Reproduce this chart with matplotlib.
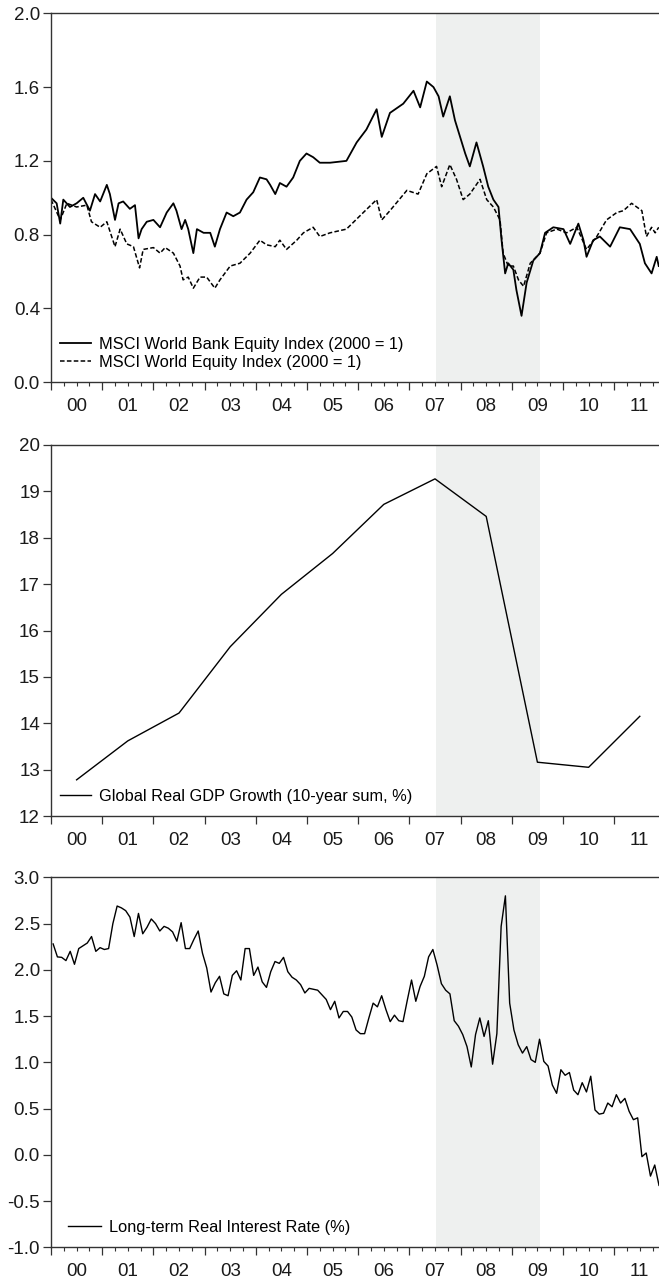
import numpy as np
import matplotlib
matplotlib.use("Agg")
import matplotlib.pyplot as plt
from matplotlib.ticker import FormatStrFormatter

plt.rcParams['font.family'] = ['Liberation Sans', 'DejaVu Sans']
plt.rcParams['axes.unicode_minus'] = False

# MSCI World Bank Equity Index (2000 = 1)
bank_t = [2000.00, 2000.11, 2000.18, 2000.24, 2000.37, 2000.50, 2000.63, 2000.76, 2000.86, 2000.96,
          2001.09, 2001.15, 2001.25, 2001.32, 2001.41, 2001.54, 2001.64, 2001.71, 2001.77, 2001.87,
          2002.00, 2002.13, 2002.26, 2002.39, 2002.45, 2002.55, 2002.62, 2002.68, 2002.78, 2002.85,
          2002.98, 2003.11, 2003.20, 2003.30, 2003.43, 2003.56, 2003.69, 2003.82, 2003.95, 2004.08,
          2004.21, 2004.28, 2004.38, 2004.47, 2004.60, 2004.73, 2004.86, 2004.99, 2005.12, 2005.25,
          2005.45, 2005.77, 2005.97, 2006.16, 2006.36, 2006.46, 2006.62, 2006.88, 2007.08, 2007.21,
          2007.34, 2007.47, 2007.57, 2007.66, 2007.79, 2007.89, 2007.99, 2008.09, 2008.18, 2008.31,
          2008.44, 2008.54, 2008.64, 2008.74, 2008.80, 2008.87, 2008.93, 2009.03, 2009.09, 2009.19,
          2009.29, 2009.42, 2009.55, 2009.65, 2009.81, 2010.01, 2010.14, 2010.30, 2010.40, 2010.46,
          2010.59, 2010.72, 2010.92, 2011.11, 2011.31, 2011.50, 2011.60, 2011.73, 2011.83, 2011.87]
bank_v = [1.00, 0.97, 0.86, 0.99, 0.95, 0.97, 1.00, 0.93, 1.02, 0.98,
          1.07, 1.02, 0.88, 0.97, 0.98, 0.94, 0.96, 0.78, 0.83, 0.87,
          0.88, 0.84, 0.92, 0.97, 0.93, 0.83, 0.88, 0.83, 0.70, 0.83,
          0.81, 0.81, 0.735, 0.83, 0.92, 0.90, 0.92, 0.99, 1.03, 1.11,
          1.10, 1.07, 1.02, 1.08, 1.06, 1.11, 1.20, 1.24, 1.22, 1.19,
          1.19, 1.20, 1.30, 1.37, 1.48, 1.33, 1.46, 1.51, 1.58, 1.49,
          1.63, 1.60, 1.55, 1.44, 1.55, 1.42, 1.33, 1.24, 1.17, 1.30,
          1.17, 1.06, 0.99, 0.95, 0.77, 0.59, 0.645, 0.61, 0.50, 0.36,
          0.54, 0.66, 0.70, 0.81, 0.84, 0.83, 0.75, 0.86, 0.77, 0.68,
          0.77, 0.79, 0.735, 0.84, 0.83, 0.75, 0.645, 0.59, 0.68, 0.63]

# MSCI World Equity Index (2000 = 1)
world_t = [2000.00, 2000.18, 2000.31, 2000.50, 2000.70, 2000.79, 2000.96, 2001.09, 2001.25, 2001.35,
           2001.48, 2001.61, 2001.73, 2001.80, 2002.00, 2002.13, 2002.23, 2002.39, 2002.52, 2002.58,
           2002.68, 2002.78, 2002.91, 2003.04, 2003.20, 2003.30, 2003.50, 2003.69, 2003.89, 2004.08,
           2004.21, 2004.38, 2004.47, 2004.60, 2004.80, 2004.93, 2005.12, 2005.25, 2005.45, 2005.77,
           2006.10, 2006.36, 2006.46, 2006.62, 2006.95, 2007.17, 2007.34, 2007.53, 2007.63, 2007.79,
           2007.92, 2008.05, 2008.18, 2008.38, 2008.51, 2008.64, 2008.77, 2008.83, 2008.93, 2009.03,
           2009.13, 2009.23, 2009.36, 2009.55, 2009.68, 2009.88, 2010.07, 2010.27, 2010.46, 2010.66,
           2010.85, 2011.05, 2011.18, 2011.34, 2011.54, 2011.63, 2011.73, 2011.80, 2011.87]
world_v = [0.99, 0.88, 0.97, 0.95, 0.96, 0.87, 0.84, 0.87, 0.735, 0.83,
           0.75, 0.735, 0.62, 0.72, 0.73, 0.70, 0.73, 0.70, 0.63, 0.555,
           0.57, 0.51, 0.57, 0.57, 0.51, 0.555, 0.63, 0.645, 0.70, 0.77,
           0.745, 0.735, 0.77, 0.72, 0.77, 0.81, 0.84, 0.79, 0.81, 0.83,
           0.92, 0.99, 0.88, 0.93, 1.04, 1.02, 1.13, 1.17, 1.06, 1.18,
           1.10, 0.99, 1.02, 1.10, 0.99, 0.95, 0.88, 0.70, 0.63, 0.63,
           0.555, 0.52, 0.645, 0.70, 0.81, 0.83, 0.81, 0.84, 0.72, 0.79,
           0.88, 0.92, 0.93, 0.97, 0.93, 0.79, 0.84, 0.81, 0.84]

# Global real GDP growth, 10-year sum (%), annual
gdp_years = np.arange(2000, 2012)
gdp_sum = [12.78, 13.62, 14.22, 15.65, 16.78, 17.66, 18.72, 19.27, 18.46, 13.16, 13.05, 14.15]

# Long-term real interest rate (%), monthly Jan 2000 - Nov 2011
real_rate = [2.28, 2.14, 2.135, 2.10, 2.20, 2.06, 2.23, 2.26, 2.29, 2.36, 2.20, 2.24,
             2.22, 2.23, 2.50, 2.69, 2.67, 2.64, 2.57, 2.36, 2.61, 2.39, 2.46, 2.55,
             2.50, 2.42, 2.47, 2.45, 2.41, 2.31, 2.51, 2.23, 2.23, 2.33, 2.42, 2.18,
             2.02, 1.76, 1.86, 1.93, 1.74, 1.72, 1.94, 1.99, 1.89, 2.23, 2.23, 1.94,
             2.03, 1.87, 1.81, 1.98, 2.09, 2.07, 2.135, 1.98, 1.92, 1.89, 1.84, 1.75,
             1.80, 1.79, 1.78, 1.73, 1.68, 1.57, 1.66, 1.48, 1.55, 1.55, 1.49, 1.35,
             1.31, 1.31, 1.48, 1.64, 1.60, 1.72, 1.57, 1.44, 1.51, 1.45, 1.44, 1.67,
             1.89, 1.66, 1.82, 1.93, 2.14, 2.22, 2.05, 1.85, 1.78, 1.74, 1.45, 1.39,
             1.30, 1.17, 0.95, 1.30, 1.48, 1.28, 1.45, 0.98, 1.31, 2.47, 2.80, 1.64,
             1.35, 1.19, 1.10, 1.17, 1.03, 1.00, 1.25, 1.01, 0.96, 0.755, 0.665, 0.92,
             0.86, 0.89, 0.70, 0.65, 0.78, 0.68, 0.85, 0.485, 0.44, 0.45, 0.56, 0.52,
             0.65, 0.56, 0.61, 0.47, 0.38, 0.40, -0.02, 0.02, -0.23, -0.11, -0.33]
rate_t = 2000 + (np.arange(len(real_rate)) + 0.5) / 12

year_labels = ['00', '01', '02', '03', '04', '05', '06', '07', '08', '09', '10', '11']
crisis = (2007.52, 2009.55)

ink = '#1a1a1a'
spine_col = '#333333'
shade = '#eef0ef'
x_end = 2011.875


def setup_axis(ax, quarters=True):
    ax.set_xlim(2000, x_end)
    ax.axvspan(*crisis, color=shade, lw=0, zorder=0)
    for side in ['left', 'bottom', 'top']:
        ax.spines[side].set_color(spine_col)
        ax.spines[side].set_linewidth(1.0)
    ax.spines['right'].set_visible(False)
    # year boundaries get the long ticks, labels sit in the middle of each year
    ax.set_xticks(np.arange(2000, 2012), labels=[''] * 12)
    if quarters:
        qpos = [y + q for y in range(2000, 2012) for q in (0.25, 0.5, 0.75)]
        qlab = [year_labels[y - 2000] if q == 0.5 else '' for y in range(2000, 2012) for q in (0.25, 0.5, 0.75)]
        qpos, qlab = zip(*[(p, l) for p, l in zip(qpos, qlab) if p < x_end])
        ax.set_xticks(qpos, labels=qlab, minor=True)
        ax.tick_params(axis='x', which='minor', length=3, width=0.8, pad=8.5)
    else:
        ax.set_xticks([y + 0.5 for y in range(2000, 2012)], labels=year_labels, minor=True)
        ax.tick_params(axis='x', which='minor', length=0, pad=11.5)
    ax.tick_params(axis='x', which='major', length=5.5, width=0.9, direction='out')
    ax.tick_params(axis='both', which='both', colors=spine_col, labelcolor=ink, labelsize=13.5)
    ax.tick_params(axis='y', which='major', length=5.5, width=0.9, pad=2.5)


fig = plt.figure(figsize=(6.59, 12.78), dpi=100)
left = 0.0774
width = 1 - left
leg_kw = dict(loc='lower left', frameon=False, fontsize=11.8, handletextpad=0.5,
              borderpad=0, borderaxespad=0)

# equity indices
ax1 = fig.add_axes([left, 0.7009, width, 0.2887])
setup_axis(ax1)
ax1.plot(bank_t, bank_v, color='black', lw=1.3, label='MSCI World Bank Equity Index (2000 = 1)')
ax1.plot(world_t, world_v, color='black', lw=1.1, ls=(0, (3, 1.5)), label='MSCI World Equity Index (2000 = 1)')
ax1.set_ylim(0, 2.0)
ax1.set_yticks(np.arange(0, 2.01, 0.4))
ax1.yaxis.set_major_formatter(FormatStrFormatter('%.1f'))
ax1.legend(bbox_to_anchor=(0.015, 0.033), handlelength=1.9, labelspacing=0.2, **leg_kw)

# GDP growth
ax2 = fig.add_axes([left, 0.3615, width, 0.2903])
setup_axis(ax2, quarters=False)
ax2.plot(gdp_years + 0.5, gdp_sum, color='black', lw=1.0, label='Global Real GDP Growth (10-year sum, %)')
ax2.set_ylim(12, 20)
ax2.set_yticks(np.arange(12, 21, 1))
ax2.legend(bbox_to_anchor=(0.015, 0.033), handlelength=1.9, **leg_kw)

# real interest rate
ax3 = fig.add_axes([left, 0.0240, width, 0.2895])
setup_axis(ax3)
ax3.plot(rate_t, real_rate, color='black', lw=1.0, label='Long-term Real Interest Rate (%)')
ax3.set_ylim(-1.0, 3.0)
ax3.set_yticks(np.arange(-1.0, 3.01, 0.5))
ax3.yaxis.set_major_formatter(FormatStrFormatter('%.1f'))
ax3.legend(bbox_to_anchor=(0.028, 0.033), handlelength=2.0, **leg_kw)

fig.savefig('out.png', dpi=100)
